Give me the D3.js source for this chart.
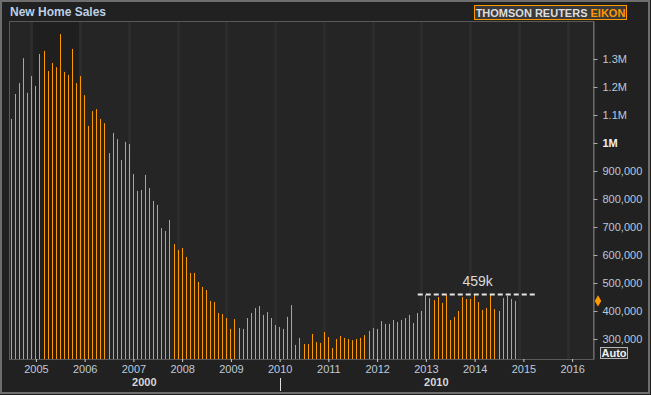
<!DOCTYPE html>
<html>
<head>
<meta charset="utf-8">
<script src="https://cdnjs.cloudflare.com/ajax/libs/d3/7.8.5/d3.min.js"></script>
<style>
body{margin:0;background:#1d1d1d;}
svg{display:block;font-family:"Liberation Sans",Arial,sans-serif;}
</style>
</head>
<body>
<script>
// monthly new home sales (thousands, annual rate), Jul 2004 .. Nov 2014
const firstMonth = new Date(2004, 6, 1);
const salesK = [
  1086,1175,1214,1303,1179,1239,
  1204,1318,1329,1257,1286,1271,1389,1254,1243,1336,1214,1239,
  1171,1061,1114,1121,1086,1071,964,1036,1014,939,1004,996,
  889,829,832,886,839,793,779,696,686,725,639,618,
  625,593,536,536,504,486,475,436,432,393,389,375,
  336,371,339,336,375,393,411,418,386,396,375,350,
  343,336,379,421,279,304,282,282,318,289,286,325,
  307,268,300,311,304,300,296,300,304,314,329,339,
  336,364,354,354,368,361,368,375,386,357,393,400,
  457,446,439,450,429,457,368,379,400,450,443,443,
  457,432,404,411,457,407,400,446,454,443,436
];
const yTicks = [300000,400000,500000,600000,700000,800000,900000,1000000,1100000,1200000,1300000];
const years = [2005,2006,2007,2008,2009,2010,2011,2012,2013,2014,2015,2016];
const decades = ["2000","2010"];
const refValue = 459000;
const refLabel = "459k";
const refFrom = new Date(2012, 10, 1);
const refTo = new Date(2015, 3, 15);

const W = 651, H = 395;
const L = 9, T = 21, R = 593, B = 359;
const orange = "#ff9900";

// months counted from Jan 2000, so every month gets the same width
function mi(d){ return (d.getFullYear()-2000)*12 + d.getMonth() + d.getDate()/31 - 1/31; }

let data = salesK.map(function(v,i){
  return {date: d3.timeMonth.offset(firstMonth, i), value: v*1000};
});

let x = d3.scaleLinear()
  .domain([mi(new Date(2004,6,1)), mi(new Date(2016,0,1))])
  .range([11.5, 11.5 + 138*4.0625]);

let y = d3.scaleLinear().domain([300000,1300000]).range([339,59]);
y.domain([y.invert(B), y.invert(T)]).range([B, T]);

let svg = d3.select('body')
  .append('svg')
  .attr('width', W)
  .attr('height', H);

// frame
svg.append('rect')
  .attr('x',1).attr('y',1)
  .attr('width',W-3).attr('height',H-3)
  .attr('fill','#212121')
  .attr('stroke','#6e6e6e')
  .attr('stroke-width',2);

svg.append('text')
  .attr('x',10).attr('y',16)
  .attr('font-size',12)
  .attr('font-weight','bold')
  .attr('fill','#bcd0e6')
  .text('New Home Sales');

// logo
let logo = svg.append('g');
logo.append('rect')
  .attr('x',474.5).attr('y',5.5)
  .attr('width',152).attr('height',14)
  .attr('fill','#3a3a3a')
  .attr('stroke',orange);
let lt = logo.append('text')
  .attr('x',550.5).attr('y',16.5)
  .attr('text-anchor','middle')
  .attr('font-size',11)
  .attr('font-weight','bold');
lt.append('tspan').attr('fill','#dedede').text('THOMSON REUTERS ');
lt.append('tspan').attr('fill',orange).text('EIKON');

// plot area
svg.append('rect')
  .attr('x',L+0.5).attr('y',T+0.5)
  .attr('width',R-L).attr('height',B-T)
  .attr('fill','#252525')
  .attr('stroke','#5a5a5a');

function gx(yr){ return Math.floor(x(mi(new Date(yr-1,11,1)))); }

svg.append('rect')
  .attr('x', gx(2005)+2)
  .attr('y', T+1)
  .attr('width', gx(2006) - gx(2005) - 3)
  .attr('height', B-T-1)
  .attr('fill','#1f1f1f');

svg.append('g').selectAll('rect')
  .data(years)
  .enter()
  .append('rect')
  .attr('x', function(d){ return gx(d) - 1; })
  .attr('y', T+1)
  .attr('width', 3)
  .attr('height', B-T-1)
  .attr('fill','#2c2c2c');

// bars
svg.append('g').selectAll('rect')
  .data(data)
  .enter()
  .append('rect')
  .attr('x', function(d){ return Math.floor(x(mi(d.date))); })
  .attr('y', function(d){ return y(d.value); })
  .attr('width', 1)
  .attr('height', function(d){ return B - y(d.value); })
  .attr('fill', orange);

// reference line
svg.append('line')
  .attr('x1', x(mi(refFrom))).attr('x2', x(mi(refTo)))
  .attr('y1', y(refValue)).attr('y2', y(refValue))
  .attr('stroke','#e6e6e6')
  .attr('stroke-width',2)
  .attr('stroke-dasharray','5,3');
svg.append('text')
  .attr('x', (x(mi(refFrom))+x(mi(refTo)))/2)
  .attr('y', y(refValue)-8)
  .attr('text-anchor','middle')
  .attr('font-size',14)
  .attr('fill','#dadada')
  .text(refLabel);

// y axis
function fmtY(v){
  if(v>=1000000) return (v/1000000)+'M';
  return d3.format(',')(v);
}
let ya = svg.append('g')
  .attr('transform','translate('+(R+0.5)+',0)')
  .call(d3.axisRight(y).tickValues(yTicks).tickSize(4).tickSizeOuter(0).tickPadding(5).tickFormat(fmtY));
ya.select('.domain').attr('stroke','#777');
ya.selectAll('.tick line').attr('stroke','#aaa');
ya.selectAll('.tick text')
  .attr('font-size',11)
  .attr('font-family','"Liberation Sans",Arial,sans-serif')
  .attr('fill', function(d){ return d===1000000 ? '#f0f0f0' : '#b9c9dc'; })
  .attr('font-weight', function(d){ return d===1000000 ? 'bold' : 'normal'; });

// last value marker
svg.append('path')
  .attr('d', d3.symbol(d3.symbolDiamond, 36)())
  .attr('transform','translate(598,'+y(data[data.length-1].value)+')')
  .attr('fill', orange);

// Auto box
svg.append('rect')
  .attr('x',600.5).attr('y',347.5)
  .attr('width',27).attr('height',11)
  .attr('fill','#2b2b2b')
  .attr('stroke','#b5b5b5');
svg.append('text')
  .attr('x',614).attr('y',357)
  .attr('text-anchor','middle')
  .attr('font-size',11)
  .attr('font-weight','bold')
  .attr('fill','#f2f2f2')
  .text('Auto');

// x axis
let xa = svg.append('g')
  .attr('transform','translate(0,'+B+')')
  .call(d3.axisBottom(x)
    .tickValues(years.map(function(d){ return mi(new Date(d,0,1)); }))
    .tickSize(3).tickPadding(3)
    .tickFormat(function(m){ return String(2000 + Math.round(m/12)); }));
xa.select('.domain').remove();
xa.selectAll('.tick line').attr('stroke','#cfcfcf');
xa.selectAll('.tick text')
  .attr('font-size',11)
  .attr('font-family','"Liberation Sans",Arial,sans-serif')
  .attr('fill','#bfcadb');

let split = x(mi(new Date(2010,0,1)));
svg.append('line')
  .attr('x1',Math.round(split)+0.5).attr('x2',Math.round(split)+0.5)
  .attr('y1',378).attr('y2',391)
  .attr('stroke','#e0e0e0');
svg.append('g').selectAll('text')
  .data(decades)
  .enter()
  .append('text')
  .attr('x', function(d,i){ return i===0 ? (L+split)/2 : (split+R)/2; })
  .attr('y', 386)
  .attr('text-anchor','middle')
  .attr('font-size',11)
  .attr('font-weight','bold')
  .attr('fill','#d6d6d6')
  .text(function(d){ return d; });
</script>
</body>
</html>
